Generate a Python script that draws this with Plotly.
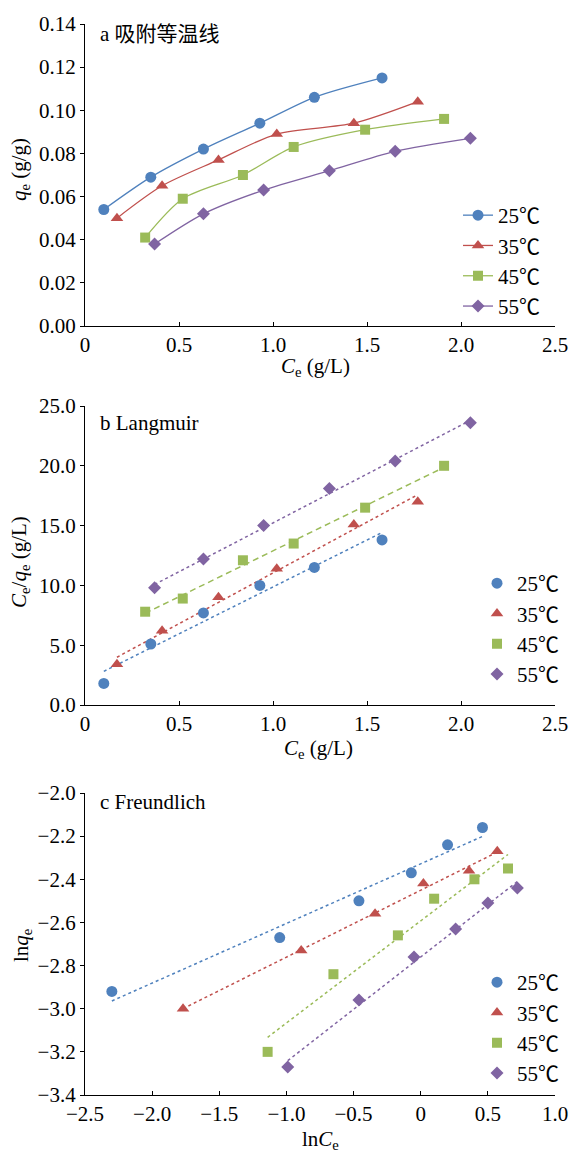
import numpy as np
import plotly.graph_objects as go

W, H = 572, 1150

temps = ["25℃", "35℃", "45℃", "55℃"]
colors = ["#4F81BD", "#C0504D", "#9BBB59", "#8064A2"]
symbols = ["circle", "triangle-up", "square", "diamond"]
msizes = [11, 11, 10, 10]

# Panel a: adsorption isotherms (Ce g/L, qe g/g)
ce_25 = [0.10, 0.35, 0.63, 0.93, 1.22, 1.58]
qe_25 = [0.054, 0.069, 0.082, 0.094, 0.106, 0.115]
ce_35 = [0.17, 0.41, 0.71, 1.02, 1.43, 1.77]
qe_35 = [0.050, 0.065, 0.077, 0.089, 0.094, 0.104]
ce_45 = [0.32, 0.52, 0.84, 1.11, 1.49, 1.91]
qe_45 = [0.041, 0.059, 0.070, 0.083, 0.091, 0.096]
ce_55 = [0.37, 0.63, 0.95, 1.30, 1.65, 2.05]
qe_55 = [0.038, 0.052, 0.063, 0.072, 0.081, 0.087]

# Panel b: Langmuir (Ce/qe, g/L)
cq_25 = [1.8, 5.1, 7.7, 10.0, 11.5, 13.8]
cq_35 = [3.4, 6.2, 9.0, 11.4, 15.1, 17.0]
cq_45 = [7.8, 8.9, 12.1, 13.5, 16.5, 20.0]
cq_55 = [9.8, 12.2, 15.0, 18.1, 20.4, 23.6]

# Panel c: Freundlich (lnCe, lnqe)
lnce_25 = [-2.30, -1.05, -0.46, -0.07, 0.20, 0.46]
lnqe_25 = [-2.92, -2.67, -2.50, -2.37, -2.24, -2.16]
lnce_35 = [-1.77, -0.89, -0.34, 0.02, 0.36, 0.57]
lnqe_35 = [-3.00, -2.73, -2.56, -2.42, -2.36, -2.27]
lnce_45 = [-1.14, -0.65, -0.17, 0.10, 0.40, 0.65]
lnqe_45 = [-3.20, -2.84, -2.66, -2.49, -2.40, -2.35]
lnce_55 = [-0.99, -0.46, -0.05, 0.26, 0.50, 0.72]
lnqe_55 = [-3.27, -2.96, -2.76, -2.63, -2.51, -2.44]

xa_tickvals = [0, 0.5, 1.0, 1.5, 2.0, 2.5]
xa_ticktext = ["0", "0.5", "1.0", "1.5", "2.0", "2.5"]
ya_tickvals = [0, 0.02, 0.04, 0.06, 0.08, 0.10, 0.12, 0.14]
yb_tickvals = [0, 5, 10, 15, 20, 25]
xc_tickvals = [-2.5, -2.0, -1.5, -1.0, -0.5, 0, 0.5, 1.0]
xc_ticktext = ["\u22122.5", "\u22122.0", "\u22121.5", "\u22121.0", "\u22120.5", "0", "0.5", "1.0"]
yc_tickvals = [-2.0, -2.2, -2.4, -2.6, -2.8, -3.0, -3.2, -3.4]

ce_sets = [ce_25, ce_35, ce_45, ce_55]
qe_sets = [qe_25, qe_35, qe_45, qe_55]
cq_sets = [cq_25, cq_35, cq_45, cq_55]
lnce_sets = [lnce_25, lnce_35, lnce_45, lnce_55]
lnqe_sets = [lnqe_25, lnqe_35, lnqe_45, lnqe_55]
b_dash = ["dot", "dot", "6px,4px", "dot"]

FONT = '"Liberation Serif", "Times New Roman", "Noto Sans CJK SC", serif'
FS = 21

fig = go.Figure()

for i in range(4):
    fig.add_trace(go.Scatter(
        x=ce_sets[i], y=qe_sets[i], mode="lines+markers", name=temps[i],
        line=dict(color=colors[i], width=1.3, shape="spline", smoothing=0.8),
        marker=dict(symbol=symbols[i], size=msizes[i], color=colors[i]),
        xaxis="x", yaxis="y", legend="legend"))

for i in range(4):
    x = np.array(ce_sets[i]); y = np.array(cq_sets[i])
    k, b = np.polyfit(x, y, 1)
    xs = np.array([x.min(), x.max()])
    fig.add_trace(go.Scatter(
        x=xs, y=k * xs + b, mode="lines", showlegend=False,
        line=dict(color=colors[i], width=1.5, dash=b_dash[i]),
        xaxis="x2", yaxis="y2", hoverinfo="skip"))
for i in range(4):
    fig.add_trace(go.Scatter(
        x=ce_sets[i], y=cq_sets[i], mode="markers", name=temps[i],
        marker=dict(symbol=symbols[i], size=msizes[i], color=colors[i]),
        xaxis="x2", yaxis="y2", legend="legend2"))

for i in range(4):
    x = np.array(lnce_sets[i]); y = np.array(lnqe_sets[i])
    k, b = np.polyfit(x, y, 1)
    xs = np.array([x.min(), x.max()])
    fig.add_trace(go.Scatter(
        x=xs, y=k * xs + b, mode="lines", showlegend=False,
        line=dict(color=colors[i], width=1.5, dash="dot"),
        xaxis="x3", yaxis="y3", hoverinfo="skip"))
for i in range(4):
    fig.add_trace(go.Scatter(
        x=lnce_sets[i], y=lnqe_sets[i], mode="markers", name=temps[i],
        marker=dict(symbol=symbols[i], size=msizes[i], color=colors[i]),
        xaxis="x3", yaxis="y3", legend="legend3"))

def px(v):
    return v / W

def py(v):
    return 1 - v / H

xdom = [px(85), px(555)]
common = dict(showgrid=False, zeroline=False, showline=True, linecolor="black",
              linewidth=1.3, tickcolor="black", tickwidth=1.3, ticklen=4,
              automargin=False,
              tickfont=dict(family=FONT, size=FS, color="black"))

def xax(anchor, rng, tv, tt):
    return dict(domain=xdom, anchor=anchor, range=rng, tickmode="array",
                tickvals=tv, ticktext=tt, ticks="inside", **common)

def yax(anchor, dom, rng, tv, fmt):
    return dict(domain=dom, anchor=anchor, range=rng, tickmode="array",
                tickvals=tv, ticktext=[format(v, fmt) if v >= 0 else "\u2212" + format(-v, fmt) for v in tv],
                ticks="outside", **common)

legend_common = dict(font=dict(family=FONT, size=FS, color="black"),
                     bgcolor="rgba(0,0,0,0)", borderwidth=0,
                     traceorder="normal", tracegroupgap=0,
                     xanchor="left", yanchor="top")

fig.update_layout(
    template="none",
    width=W, height=H, margin=dict(l=0, r=0, t=0, b=0, pad=0, autoexpand=False),
    paper_bgcolor="white", plot_bgcolor="white",
    font=dict(family=FONT, size=FS, color="black"),
    xaxis=xax("y", [0, 2.5], xa_tickvals, xa_ticktext),
    yaxis=yax("x", [py(326), py(24)], [0, 0.14], ya_tickvals, ".2f"),
    xaxis2=xax("y2", [0, 2.5], xa_tickvals, xa_ticktext),
    yaxis2=yax("x2", [py(705), py(406)], [0, 25], yb_tickvals, ".1f"),
    xaxis3=xax("y3", [-2.5, 1.0], xc_tickvals, xc_ticktext),
    yaxis3=yax("x3", [py(1095), py(793)], [-3.4, -2.0], yc_tickvals, ".1f"),
    legend=dict(x=px(458), y=py(195), **legend_common),
    legend2=dict(x=px(477), y=py(563), **legend_common),
    legend3=dict(x=px(477), y=py(962), **legend_common),
    showlegend=True,
)

def ann(x, y, text, angle=0, xanchor="center"):
    fig.add_annotation(x=px(x), y=py(y), xref="paper", yref="paper", text=text,
                       showarrow=False, textangle=angle, xanchor=xanchor, yanchor="middle",
                       font=dict(family=FONT, size=FS, color="black"))

ann(98, 34, "a 吸附等温线", xanchor="left")
ann(98, 423, "b Langmuir", xanchor="left")
ann(98, 802, "c Freundlich", xanchor="left")
ann(316, 367, "<i>C</i><sub>e</sub> (g/L)")
ann(318, 749, "<i>C</i><sub>e</sub> (g/L)")
ann(320, 1140, "ln<i>C</i><sub>e</sub>")
ann(20, 170, "<i>q</i><sub>e</sub> (g/g)", angle=-90)
ann(20, 562, "<i>C</i><sub>e</sub>/<i>q</i><sub>e</sub> (g/L)", angle=-90)
ann(22, 945, "ln<i>q</i><sub>e</sub>", angle=-90)

fig.write_html("out.html")
